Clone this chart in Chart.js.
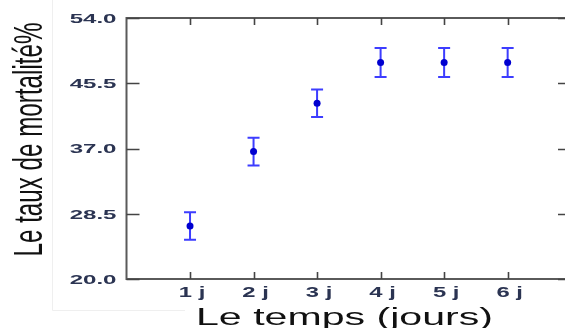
<!DOCTYPE html>
<html>
<head>
<meta charset="utf-8">
<script src="https://cdn.jsdelivr.net/npm/chart.js@4/dist/chart.umd.min.js"></script>
<style>
  html, body { margin: 0; padding: 0; background: #fff; overflow: hidden; }
  #wrap { width: 568px; height: 328px; position: relative; }
</style>
</head>
<body>
<div id="wrap"><canvas id="c" width="568" height="328"></canvas></div>
<script>
// Mortality rate (%) per day, with error bar half-widths
const days = ['1 j', '2 j', '3 j', '4 j', '5 j', '6 j'];
const mortality = [26.9, 36.6, 42.9, 48.2, 48.2, 48.2];
const errorHalf = [1.8, 1.8, 1.8, 1.9, 1.9, 1.9];
const yTicks = [20.0, 28.5, 37.0, 45.5, 54.0];
const xTitle = 'Le temps (jours)';
const yTitle = 'Le taux de mortalité%';

const points = days.map((d, i) => ({ x: i + 1, y: mortality[i] }));

// draws text with independent horizontal stretch
function stretchedText(ctx, text, x, y, font, sx, align, color) {
  ctx.save();
  ctx.font = font;
  ctx.fillStyle = color;
  ctx.textBaseline = 'alphabetic';
  const w = ctx.measureText(text).width * sx;
  let x0 = x;
  if (align === 'right') x0 = x - w;
  else if (align === 'center') x0 = x - w / 2;
  ctx.translate(x0, y);
  ctx.scale(sx, 1);
  ctx.fillText(text, 0, 0);
  ctx.restore();
}

const errorBars = {
  id: 'errorBars',
  beforeDatasetsDraw(chart) {
    const { ctx, scales: { x, y } } = chart;
    ctx.save();
    ctx.strokeStyle = '#3d3dff';
    ctx.lineWidth = 2;
    points.forEach((p, i) => {
      const px = x.getPixelForValue(p.x);
      const top = y.getPixelForValue(p.y + errorHalf[i]);
      const bot = y.getPixelForValue(p.y - errorHalf[i]);
      ctx.beginPath();
      ctx.moveTo(px, top); ctx.lineTo(px, bot);
      ctx.moveTo(px - 6, top); ctx.lineTo(px + 6, top);
      ctx.moveTo(px - 6, bot); ctx.lineTo(px + 6, bot);
      ctx.stroke();
    });
    ctx.restore();
  }
};

const frame = {
  id: 'frame',
  afterDraw(chart) {
    const { ctx, chartArea: a, scales: { x, y } } = chart;
    ctx.save();
    // faint outer border line
    ctx.strokeStyle = '#efefef';
    ctx.lineWidth = 1;
    ctx.beginPath();
    ctx.moveTo(52.5, 0); ctx.lineTo(52.5, 310.5);
    ctx.lineTo(185, 310.5);
    ctx.stroke();

    // box
    ctx.strokeStyle = '#5a5a5a';
    ctx.lineWidth = 2;
    ctx.strokeRect(a.left, a.top, a.right - a.left, a.bottom - a.top);

    // inward ticks
    ctx.strokeStyle = '#444';
    ctx.lineWidth = 1.6;
    ctx.beginPath();
    days.forEach((d, i) => {
      const px = Math.round(x.getPixelForValue(i + 1)) + 0.5;
      ctx.moveTo(px, a.bottom); ctx.lineTo(px, a.bottom - 7);
      ctx.moveTo(px, a.top); ctx.lineTo(px, a.top + 7);
    });
    yTicks.forEach(v => {
      const py = Math.round(y.getPixelForValue(v)) + 0.5;
      ctx.moveTo(a.left, py); ctx.lineTo(a.left + 13, py);
      ctx.moveTo(a.right, py); ctx.lineTo(a.right - 10, py);
    });
    ctx.stroke();

    // tick labels
    const lblColor = '#2b3452';
    yTicks.forEach(v => {
      const py = y.getPixelForValue(v);
      stretchedText(ctx, v.toFixed(1), 116.5, py + 4.8, 'bold 13px "Liberation Sans", Arial, sans-serif', 1.85, 'right', lblColor);
    });
    days.forEach((d, i) => {
      const px = x.getPixelForValue(i + 1);
      stretchedText(ctx, d, px + 2, 296.5, 'bold 14px "Liberation Sans", Arial, sans-serif', 1.7, 'center', lblColor);
    });

    // x title
    ctx.font = '23.5px "Liberation Sans", Arial, sans-serif';
    const xw = ctx.measureText(xTitle).width;
    stretchedText(ctx, xTitle, 196, 325, ctx.font, 297 / xw, 'left', '#111');

    // y title (rotated, condensed)
    ctx.font = '40px "Liberation Sans", Arial, sans-serif';
    const yw = ctx.measureText(yTitle).width;
    ctx.translate(42, 256.5);
    ctx.rotate(-Math.PI / 2);
    ctx.scale(234 / yw, 1);
    ctx.fillStyle = '#111';
    ctx.textBaseline = 'alphabetic';
    ctx.fillText(yTitle, 0, 0);
    ctx.restore();
  }
};

new Chart(document.getElementById('c'), {
  type: 'scatter',
  data: {
    datasets: [{
      data: points,
      backgroundColor: '#0000d0',
      borderColor: '#0000d0',
      pointRadius: 3.5,
      pointHoverRadius: 3.5,
      borderWidth: 0
    }]
  },
  options: {
    responsive: false,
    devicePixelRatio: 1,
    animation: false,
    events: [],
    layout: { autoPadding: false, padding: { left: 126.5, top: 18, right: 0, bottom: 49 } },
    plugins: { legend: { display: false }, tooltip: { enabled: false } },
    scales: {
      x: { type: 'linear', min: 0, max: 6.95, display: false },
      y: { type: 'linear', min: 20, max: 54, display: false }
    }
  },
  plugins: [errorBars, frame]
});
</script>
</body>
</html>
